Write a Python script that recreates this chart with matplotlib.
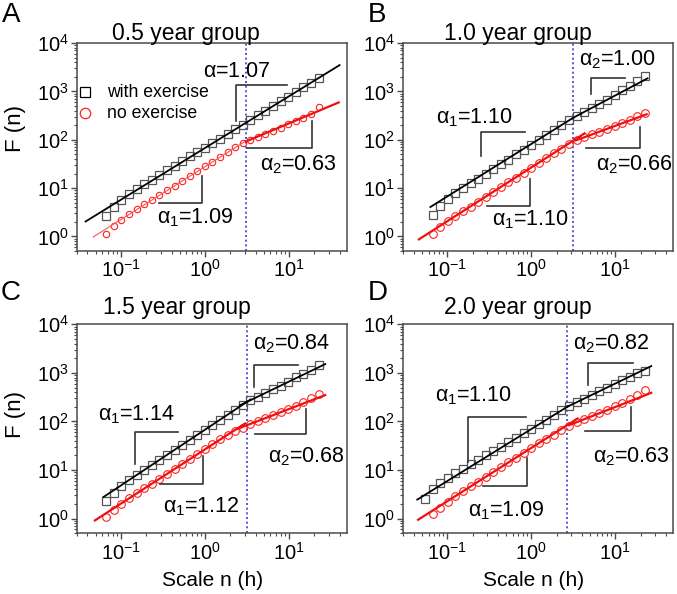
import matplotlib
matplotlib.use("Agg")
import matplotlib.pyplot as plt

plt.rcParams["font.family"] = ["Liberation Sans", "DejaVu Sans"]
plt.rcParams["mathtext.fontset"] = "custom"
plt.rcParams["mathtext.rm"] = "Liberation Sans"
plt.rcParams["mathtext.it"] = "Liberation Sans"
plt.rcParams["mathtext.bf"] = "Liberation Sans:bold"

# DFA scales (hours)
scale_h = [0.067, 0.0825, 0.1015, 0.1249, 0.1537, 0.1892, 0.2329, 0.2866, 0.3528, 0.4342,
           0.5344, 0.6578, 0.8096, 0.9964, 1.226, 1.509, 1.858, 2.286, 2.814, 3.464,
           4.263, 5.247, 6.458, 7.948, 9.783, 12.04, 14.82, 18.24, 22.45]
scale_h_d_ex = [0.0544, 0.067, 0.0825, 0.1015, 0.1249, 0.1537, 0.1892, 0.2329, 0.2866, 0.3528,
                0.4342, 0.5344, 0.6578, 0.8096, 0.9964, 1.226, 1.509, 1.858, 2.286, 2.814,
                3.464, 4.263, 5.247, 6.458, 7.948, 9.783, 12.04, 14.82, 18.24, 22.45]

# F(n), with exercise / no exercise
a_ex = [2.71, 4.07, 5.57, 7.46, 9.53, 11.9, 14.9, 18.6, 23.2, 29.0, 36.1, 45.2, 56.4, 68.9, 85.9,
        105, 131, 164, 204, 255, 318, 398, 497, 621, 774, 968, 1208, 1510, 1928]
a_no = [1.15, 1.65, 2.22, 2.92, 3.66, 4.59, 5.75, 7.21, 9.04, 11.3, 14.2, 17.8, 22.4, 28.1, 35.2,
        44.2, 55.3, 69.3, 86.9, 100, 115, 132, 151, 178, 209, 245, 288, 347, 468]
b_ex = [2.74, 4.32, 6.08, 7.80, 10.0, 12.5, 15.7, 19.6, 24.6, 30.8, 38.6, 49.5, 62.1, 79.6, 99.8,
        128, 160, 200, 251, 312, 378, 459, 557, 676, 839, 1042, 1291, 1603, 2037]
b_no = [1.14, 1.57, 2.07, 2.61, 3.28, 4.14, 5.21, 6.56, 8.26, 10.4, 13.1, 16.5, 20.7, 26.1, 32.9,
        41.5, 52.2, 65.8, 82.8, 98.6, 113, 129, 147, 168, 192, 219, 256, 306, 358]
c_ex = [2.32, 3.38, 4.60, 6.11, 7.94, 10.1, 12.8, 16.2, 20.6, 26.1, 33.1, 42.0, 53.3, 67.6, 85.9,
        109, 138, 175, 222, 273, 325, 386, 460, 547, 665, 809, 964, 1172, 1426]
c_no = [1.08, 1.51, 2.01, 2.62, 3.31, 4.18, 5.27, 6.65, 8.38, 10.6, 13.3, 16.8, 21.2, 26.7, 33.7,
        42.6, 53.7, 64.6, 74.1, 89.1, 102, 117, 134, 154, 181, 212, 249, 299, 363]
d_ex = [2.55, 4.11, 5.51, 6.89, 8.59, 10.5, 13.1, 16.0, 20.0, 24.4, 30.5, 37.3, 46.6, 56.9, 69.5,
        86.9, 109, 136, 170, 209, 248, 296, 352, 419, 498, 593, 705, 839, 975, 1100]
d_no = [1.23, 1.69, 2.22, 2.92, 3.67, 4.61, 5.78, 7.26, 9.12, 11.5, 14.4, 18.1, 22.7, 28.5, 35.8,
        44.0, 53.8, 66.1, 79.4, 96.6, 111, 128, 148, 170, 205, 242, 284, 343, 454]

# fitted lines: segments of (x, F) end points
a_ex_fit = [[(0.038, 2.04), (40, 3490)]]
a_no_fit = [[(0.047, 0.98), (3.08, 95)], [(3.08, 92), (39, 590)]]
b_ex_fit = [[(0.063, 4.06), (3.16, 285)], [(3.16, 285), (24.2, 1860)]]
b_no_fit = [[(0.046, 0.87), (4.3, 135)], [(3.4, 97), (23.6, 336)]]
c_ex_fit = [[(0.062, 2.79), (3.5, 285)], [(2.6, 215), (27, 1520)]]
c_no_fit = [[(0.049, 0.92), (3.0, 91)], [(2.47, 71), (27, 350)]]
d_ex_fit = [[(0.044, 2.47), (2.8, 210)], [(2.67, 200), (26.8, 1380)]]
d_no_fit = [[(0.045, 0.95), (3.56, 115)], [(2.82, 84), (26.8, 389)]]

# crossover scale (h)
crossover = [3.08, 3.16, 3.13, 2.67]
groups = ["0.5 year group", "1.0 year group", "1.5 year group", "2.0 year group"]
letters = ["A", "B", "C", "D"]

fig = plt.figure(figsize=(6.77, 5.94), dpi=100)
W, H = 677.0, 594.0


def add_axes(left, top, right, bottom):
    return fig.add_axes([left / W, 1 - bottom / H, (right - left) / W, (bottom - top) / H])


ax_a = add_axes(77, 43, 347, 251)
ax_b = add_axes(403.3, 43, 673.3, 251)
ax_c = add_axes(77, 324.3, 347, 533.3)
ax_d = add_axes(403.3, 324.3, 673.3, 533.3)

frame_col = "#4a4a4a"
brk_col = "#333333"


def draw_panel(ax, x_ex, y_ex, x_no, y_no, fit_ex, fit_no, vx, brackets, labels,
               circ_size=5.5, thin_first_red=False):
    ax.set_xscale("log")
    ax.set_yscale("log")
    ax.set_xlim(0.03, 49)
    ax.set_ylim(0.5, 1e4)

    for seg in fit_ex:
        (x0, y0), (x1, y1) = seg
        ax.plot([x0, x1], [y0, y1], color="black", lw=1.3, zorder=3)
    for i, seg in enumerate(fit_no):
        (x0, y0), (x1, y1) = seg
        if thin_first_red and i == 0:
            ax.plot([x0, x1], [y0, y1], color="#ff5050", lw=0.8, zorder=3)
        else:
            ax.plot([x0, x1], [y0, y1], color="#ee1111", lw=1.6, zorder=3)

    ax.plot(x_ex, y_ex, ls="none", marker="s", ms=6.2, mfc="none", mec="#555555", mew=0.9, zorder=2)
    ax.plot(x_no, y_no, ls="none", marker="o", ms=circ_size, mfc="none", mec="#ff2020", mew=0.8, zorder=2)

    ax.axvline(vx, color="#3a3acc", ls=(0, (1.2, 1.6)), lw=1.2, zorder=1)

    for pts in brackets:
        ax.plot([p[0] for p in pts], [p[1] for p in pts], color=brk_col, lw=1.2, zorder=4)
    for x, y, s in labels:
        ax.text(x, y, s, fontsize=15.5, ha="left", va="center", zorder=5)

    for sp in ax.spines.values():
        sp.set_color(frame_col)
        sp.set_linewidth(1.1)
    ax.tick_params(which="major", direction="out", length=4, width=1, colors=frame_col,
                   labelsize=14.5, labelcolor="black", pad=2, top=False, right=False)
    ax.tick_params(which="minor", direction="out", length=2.5, width=0.8, colors=frame_col,
                   top=False, right=False)
    ax.set_xticks([0.1, 1, 10])
    ax.set_yticks([1, 10, 100, 1000, 10000])


draw_panel(
    ax_a, scale_h, a_ex, scale_h, a_no, a_ex_fit, a_no_fit, crossover[0],
    brackets=[
        [(2.32, 244), (2.32, 1337), (9.4, 1337)],
        [(3.14, 68.6), (18.6, 68.6), (18.6, 244)],
        [(0.283, 4.82), (0.914, 4.82), (0.914, 17.7)],
    ],
    labels=[
        (0.95, 2600, r"$\alpha$=1.07"),
        (4.52, 31, r"$\alpha_2$=0.63"),
        (0.266, 2.44, r"$\alpha_1$=1.09"),
    ],
    circ_size=4.6, thin_first_red=True,
)
draw_panel(
    ax_b, scale_h, b_ex, scale_h, b_no, b_ex_fit, b_no_fit, crossover[1],
    brackets=[
        [(0.255, 46), (0.255, 144.5), (0.848, 144.5)],
        [(0.301, 4.24), (0.965, 4.24), (0.965, 15.1)],
        [(5.1, 871), (5.1, 1870), (12.9, 1870)],
        [(4.42, 68.6), (19.5, 68.6), (19.5, 187)],
    ],
    labels=[
        (0.0726, 287, r"$\alpha_1$=1.10"),
        (0.339, 2.25, r"$\alpha_1$=1.10"),
        (3.68, 4620, r"$\alpha_2$=1.00"),
        (5.93, 31, r"$\alpha_2$=0.66"),
    ],
)
draw_panel(
    ax_c, scale_h, c_ex, scale_h, c_no, c_ex_fit, c_no_fit, crossover[2],
    brackets=[
        [(0.147, 13.6), (0.147, 61), (0.481, 61)],
        [(0.291, 5.1), (0.939, 5.1), (0.939, 19.3)],
        [(3.83, 517), (3.83, 1449), (12.9, 1449)],
        [(3.94, 54.7), (15.9, 54.7), (15.9, 185)],
    ],
    labels=[
        (0.0537, 135, r"$\alpha_1$=1.14"),
        (0.319, 1.73, r"$\alpha_1$=1.12"),
        (3.76, 4055, r"$\alpha_2$=0.84"),
        (5.67, 18.6, r"$\alpha_2$=0.68"),
    ],
)
draw_panel(
    ax_d, scale_h_d_ex, d_ex, scale_h, d_no, d_ex_fit, d_no_fit, crossover[3],
    brackets=[
        [(0.176, 14.7), (0.176, 124), (0.871, 124)],
        [(0.27, 4.63), (0.879, 4.63), (0.879, 18.1)],
        [(4.69, 560), (4.69, 1570), (16.2, 1570)],
        [(4.39, 64), (15.5, 64), (15.5, 200)],
    ],
    labels=[
        (0.0714, 333, r"$\alpha_1$=1.10"),
        (0.176, 1.48, r"$\alpha_1$=1.09"),
        (3.15, 4055, r"$\alpha_2$=0.82"),
        (5.38, 18.6, r"$\alpha_2$=0.63"),
    ],
)

# legend in panel A
ax_a.plot([0.03], [0.764], transform=ax_a.transAxes, marker="s", ms=7.5, mfc="none",
          mec="black", mew=0.9, clip_on=False)
ax_a.plot([0.03], [0.663], transform=ax_a.transAxes, marker="o", ms=7.5, mfc="none",
          mec="#ff2020", mew=0.9, clip_on=False)
ax_a.text(0.111, 0.764, "with exercise", transform=ax_a.transAxes, fontsize=12.7, va="center")
ax_a.text(0.111, 0.663, "no exercise", transform=ax_a.transAxes, fontsize=12.7, va="center")

# group titles
ax_a.text(0.13, 1.045, groups[0], transform=ax_a.transAxes, fontsize=16.5, va="center")
ax_b.text(0.15, 1.045, groups[1], transform=ax_b.transAxes, fontsize=16.5, va="center")
ax_c.text(0.096, 1.08, groups[2], transform=ax_c.transAxes, fontsize=16.5, va="center")
ax_d.text(0.15, 1.08, groups[3], transform=ax_d.transAxes, fontsize=16.5, va="center")

# panel letters
for (px, py), let in zip([(11, 15), (377, 15), (11, 293), (378, 293)], letters):
    fig.text(px / W, 1 - py / H, let, fontsize=20, ha="center", va="center")

# axis labels
fig.text(16 / W, 1 - 128 / H, "F (n)", rotation=90, fontsize=16, ha="center", va="center")
fig.text(16 / W, 1 - 415 / H, "F (n)", rotation=90, fontsize=16, ha="center", va="center")
fig.text(213 / W, 1 - 581 / H, "Scale n (h)", fontsize=15, ha="center", va="center")
fig.text(534 / W, 1 - 580 / H, "Scale n (h)", fontsize=15, ha="center", va="center")

fig.savefig("out.png", dpi=100)
